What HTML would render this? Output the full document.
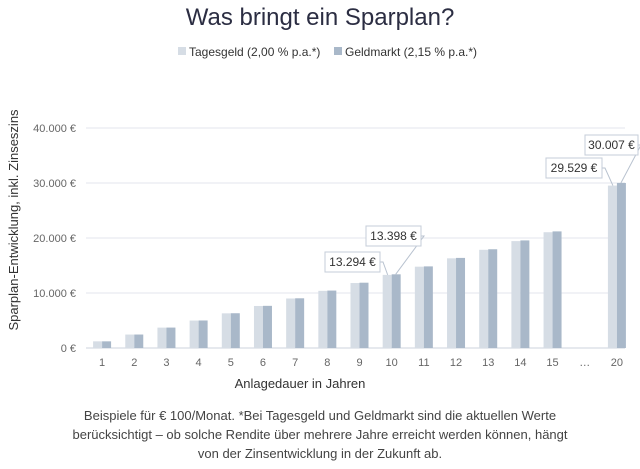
<!DOCTYPE html>
<html><head><meta charset="utf-8">
<style>
body{margin:0;width:640px;height:469px;background:#fff;font-family:"Liberation Sans",sans-serif;overflow:hidden;position:relative}
.title{position:absolute;top:4px;left:0;width:640px;text-align:center;font-size:24px;color:#2b2d42;font-weight:300}
.foot{position:absolute;top:406px;left:0;width:640px;text-align:center;font-size:13px;color:#444;line-height:19px}
</style></head><body>
<div class="title">Was bringt ein Sparplan?</div>
<svg id="c" width="640" height="400" style="position:absolute;left:0;top:0"></svg>
<div class="foot">Beispiele für € 100/Monat. *Bei Tagesgeld und Geldmarkt sind die aktuellen Werte<br>berücksichtigt – ob solche Rendite über mehrere Jahre erreicht werden können, hängt<br>von der Zinsentwicklung in der Zukunft ab.</div>
<script>
const categories=["1","2","3","4","5","6","7","8","9","10","11","12","13","14","15","…","20"];
const tagesgeld=[1211,2446,3706,4992,6302,7639,9003,10394,11813,13294,14785,16305,17856,19437,21050,null,29529];
const geldmarkt=[1212,2450,3713,5004,6321,7666,9039,10441,11873,13398,14840,16381,17954,19561,21202,null,30007];
const yTicks=[0,10000,20000,30000,40000];
const yTickLabels=["0 €","10.000 €","20.000 €","30.000 €","40.000 €"];
const NS="http://www.w3.org/2000/svg";
const svg=document.getElementById('c');
const x0=86,x1=633,y0=348,y1=128;
const y=v=>y0-(v/40000)*(y0-y1);
const slot=(x1-x0)/categories.length;
const xc=i=>x0+slot*(i+0.5);
function el(t,a,txt){const e=document.createElementNS(NS,t);for(const k in a)e.setAttribute(k,a[k]);if(txt!=null)e.textContent=txt;svg.appendChild(e);return e;}
yTicks.forEach((t,i)=>{
 const g=el('line',{x1:x0,x2:625,y1:y(t),y2:y(t),stroke:i==0?'#ccd3dc':'#e3e6ee','stroke-width':1});
 
 
 const l=el('text',{x:76,y:y(t)+4,'text-anchor':'end','font-size':11,fill:'#666'},yTickLabels[i]);
 
 
});
categories.forEach((c,i)=>{
 const l=el('text',{x:xc(i),y:366,'text-anchor':'middle','font-size':11,fill:'#666'},c);
 
 
 if(tagesgeld[i]!=null){
  const b=el('rect',{x:xc(i)-9,y:y(tagesgeld[i]),width:9,height:y0-y(tagesgeld[i]),fill:'#d6dde5'});
  
  
 }
 if(geldmarkt[i]!=null){
  const b=el('rect',{x:xc(i),y:y(geldmarkt[i]),width:9,height:y0-y(geldmarkt[i]),fill:'#a9b8c9'});
  
  
 }
});
function label(i,series,off,bx,by,w){
 const v=series[i], s=(v/1000).toFixed(3)+' €';
 const tx=xc(i)+off, ty=y(v);
 const ln=el('polyline',{points:`${bx+w},${by+10} ${bx+w+3},${by+10} ${tx},${ty}`,fill:'none',stroke:'#b8c2cf','stroke-width':1});
 
 
 const r=el('rect',{x:bx,y:by,width:w,height:20,fill:'#fff',stroke:'#c5cdd8','stroke-width':1});
 
 
 const t=el('text',{x:bx+w/2,y:by+14,'text-anchor':'middle','font-size':12,fill:'#333'},s);
 
 
}
label(9,tagesgeld,-4,325,252,55);
label(9,geldmarkt,4,366,226,55);
label(16,tagesgeld,-4,546,158,56);
label(16,geldmarkt,4,585,135,53);
// legend
[['#d6dde5','Tagesgeld (2,00 % p.a.*)',178],['#a9b8c9','Geldmarkt (2,15 % p.a.*)',334]].forEach(d=>{
 const r=el('rect',{x:d[2],y:47,width:8,height:8,fill:d[0]});
 
 
 const t=el('text',{x:d[2]+11,y:56,'font-size':12,fill:'#333'},d[1]);
 
 
});
const xt=el('text',{x:300,y:388,'text-anchor':'middle','font-size':13,fill:'#333'},'Anlagedauer in Jahren');


const yt=el('text',{x:0,y:0,'text-anchor':'middle','font-size':13,fill:'#333',transform:'translate(18,220) rotate(-90)'},'Sparplan-Entwicklung, inkl. Zinseszins');


</script>
</body></html>
